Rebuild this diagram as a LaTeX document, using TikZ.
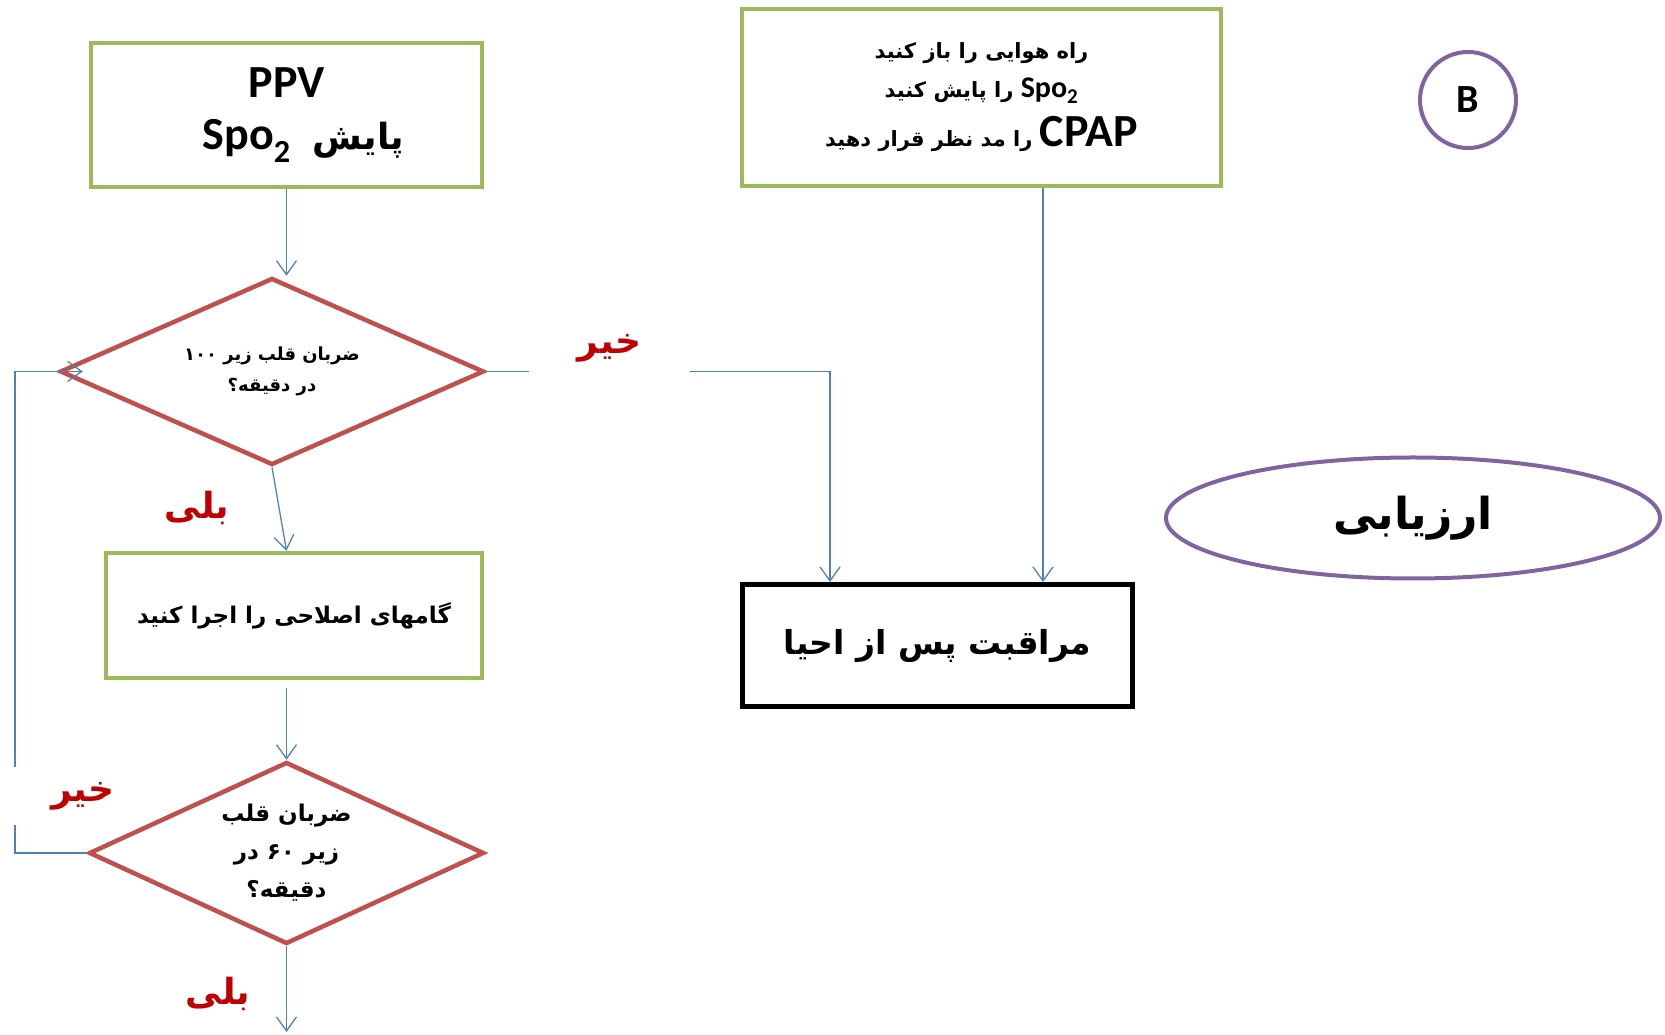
\documentclass[tikz,border=0pt]{standalone}
\usepackage{fontspec}
\setmainfont{Carlito}
\newfontfamily\farsi[Script=Arabic]{DejaVu Sans}
\TeXXeTstate=1
\usetikzlibrary{shapes.geometric, arrows.meta, positioning}
\definecolor{boxgreen}{RGB}{155,187,89}
\definecolor{diared}{RGB}{192,80,77}
\definecolor{linkblue}{RGB}{79,129,189}
\definecolor{ringpurple}{RGB}{128,100,162}
\definecolor{answerred}{RGB}{192,0,0}
\newcommand{\fa}[1]{{\farsi\bfseries\beginR #1\endR}}
\newcommand{\lat}[1]{\beginL{\rmfamily\bfseries #1}\endL}

\begin{document}
\begin{tikzpicture}[x=1pt, y=1pt,
    every node/.style={font=\bfseries},
    stepbox/.style={rectangle, draw=boxgreen, line width=4.5pt, align=center},
    decision/.style={diamond, draw=diared, line width=4.5pt, align=center, inner sep=0pt},
    carebox/.style={rectangle, draw=black, line width=5pt, align=center},
    ring/.style={draw=ringpurple, line width=4pt},
    answer/.style={text=answerred, fill=white, inner sep=5pt, font=\fontsize{36}{40}\selectfont},
    link/.style={-{Straight Barb[length=14pt, width=20pt]}, draw=linkblue, line width=1.3pt}
]
    \useasboundingbox (0,0) rectangle (1665,1034);
    % left column
    \node[stepbox, minimum width=391pt, minimum height=144pt] (ppv) at (286.5,919)
        {{\fontsize{46}{60}\selectfont\bfseries PPV}\\[21pt]
         \fontsize{36}{40}\selectfont\fa{پایش\hspace{22pt}\lat{\fontsize{46}{46}\selectfont Spo\textsubscript{2}}\hspace{34pt}}};
    \node[decision, aspect=2.27, minimum width=424pt, minimum height=187pt,
          font=\fontsize{18}{31}\selectfont] (hr100) at (272,662.5)
        {\fa{ضربان قلب زیر ۱۰۰}\\\fa{در دقیقه؟}};
    \node[stepbox, minimum width=376pt, minimum height=125pt,
          font=\fontsize{23}{24}\selectfont] (act) at (294,418.5)
        {\fa{گامهای اصلاحی را اجرا کنید}};
    \node[decision, aspect=2.17, minimum width=395pt, minimum height=182pt,
          font=\fontsize{23}{38}\selectfont] (hr60) at (286.5,181)
        {\fa{ضربان قلب}\\\fa{زیر ۶۰ در}\\\fa{دقیقه؟}};
    % right part
    \node[stepbox, minimum width=479pt, minimum height=177pt,
          font=\fontsize{21}{39}\selectfont] (cpap) at (981.5,936.5)
        {\fa{راه هوایی را باز کنید}\\
         \fa{\lat{\fontsize{30}{30}\selectfont Spo\textsubscript{2}} را پایش کنید}\\[10pt]
         \fa{\lat{\fontsize{46}{46}\selectfont CPAP} را مد نظر قرار دهید}};
    \node[carebox, minimum width=390pt, minimum height=122pt,
          font=\fontsize{33}{33}\selectfont] (post) at (937.5,388.5)
        {\fa{مراقبت پس از احیا}};
    \node[ring, ellipse, minimum width=494pt, minimum height=121pt,
          font=\fontsize{44}{44}\selectfont] (assess) at (1413,516) {\fa{ارزیابی}};
    \node[ring, circle, minimum size=96pt,
          font=\fontsize{40}{40}\selectfont\bfseries] (tagB) at (1468,934) {B};

    \coordinate (actout) at ([yshift=-8pt]act.south);
    \coordinate (loopx) at (15,0);
    \coordinate (hr100in) at ([xshift=25pt]hr100.west);
    \coordinate (exit) at (286.5,2);
    \coordinate (postin) at ([xshift=90pt]post.north west);
    \coordinate (cpapout) at ([xshift=61.5pt]cpap.south);

    \draw[link] (ppv.south) -- (ppv.south |- hr100.north);
    \draw[link] (hr100.south) -- (act.north -| ppv.south);
    \draw[link] (actout -| hr60.north) -- (hr60.north);
    \draw[link] (hr60.south) -- (exit);
    \draw[link] (hr60.west) -- (hr60.west -| loopx) |- (hr100in);
    \draw[link] (hr100.east) -| (postin);
    \draw[link] (cpapout) -- (cpapout |- post.north);

    % yes / no
    \node[answer, minimum width=161pt, minimum height=56pt] (no1) at (609.5,686) {\fa{خیر}};
    \node[answer] (yes1) at (197,526) {\fa{بلی}};
    \node[answer, text width=105pt, align=right, minimum height=58pt] (no2) at (62,238) {\fa{خیر}};
    \node[answer] (yes2) at (218,40) {\fa{بلی}};
\end{tikzpicture}
\end{document}
